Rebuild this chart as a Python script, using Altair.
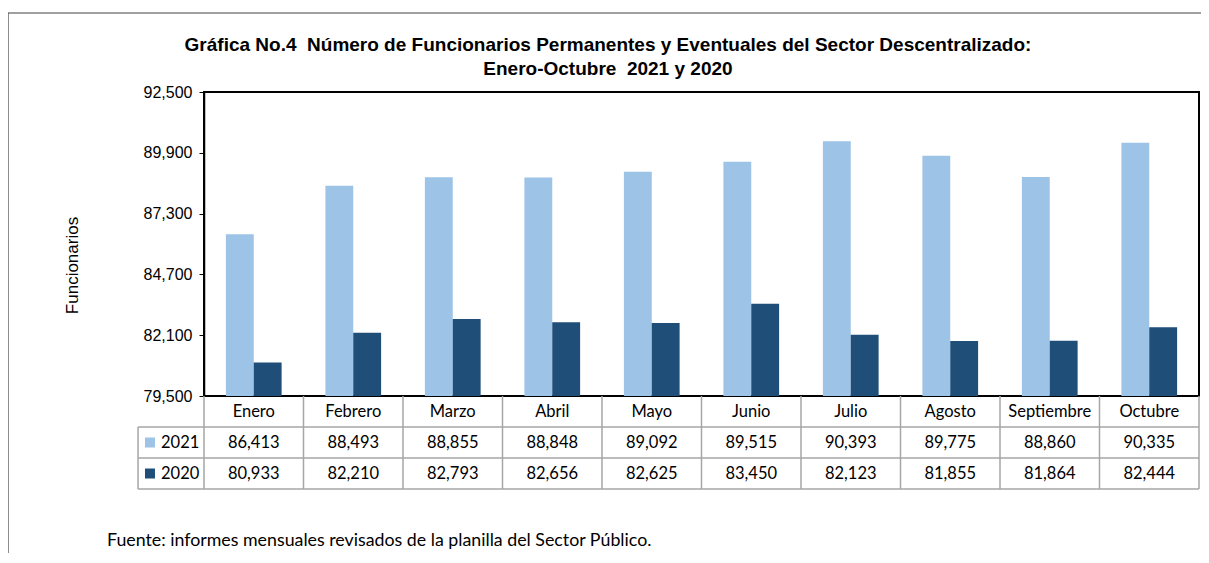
import altair as alt
import pandas as pd

months = ["Enero", "Febrero", "Marzo", "Abril", "Mayo", "Junio", "Julio",
          "Agosto", "Septiembre", "Octubre"]
years = ["2021", "2020"]
v2021 = [86413, 88493, 88855, 88848, 89092, 89515, 90393, 89775, 88860, 90335]
v2020 = [80933, 82210, 82793, 82656, 82625, 83450, 82123, 81855, 81864, 82444]
y_ticks = [79500, 82100, 84700, 87300, 89900, 92500]
colors = ["#9DC3E6", "#1F4E79"]
title_lines = [
    "Gráfica No.4 \u00a0Número de Funcionarios Permanentes y Eventuales del Sector Descentralizado:",
    "Enero-Octubre \u00a02021 y 2020",
]
y_title = "Funcionarios"
source = "Fuente: informes mensuales revisados de la planilla del Sector Público."

series = {"2021": v2021, "2020": v2020}
W, H = 995, 304
ROW = 31
GRID = "#a6a6a6"
AXFONT = "Liberation Sans"
TFONT = "Lato"

bars_df = pd.DataFrame([
    {"month": m, "year": y, "value": series[y][i], "c": i + 0.5, "r": 1.5 + k}
    for k, y in enumerate(years) for i, m in enumerate(months)
])
head_df = pd.DataFrame({"month": months, "c": [i + 0.5 for i in range(len(months))]})
n = len(months)
LEFT = -0.663
seg = []
for r in [1, 2, 3]:
    seg.append({"c": LEFT, "c2": n, "r": r, "r2": r})
for c in range(n + 1):
    seg.append({"c": c, "c2": c, "r": 0, "r2": 3})
seg.append({"c": LEFT, "c2": LEFT, "r": 1, "r2": 3})
seg_df = pd.DataFrame(seg)
leg_df = pd.DataFrame({"year": years, "r": [1.5, 2.5]})
title_df = pd.DataFrame({"t": title_lines, "r": [-11.12, -10.35]})

xs = alt.Scale(domain=[0, n], range=[0, W])
ys = alt.Scale(domain=[0, 3], range=[H, H + 3 * ROW])

bars = alt.Chart(bars_df).mark_bar().encode(
    x=alt.X("month:N", sort=months,
            scale=alt.Scale(paddingInner=0.44, paddingOuter=0.22), axis=None),
    xOffset=alt.XOffset("year:N", sort=years,
                        scale=alt.Scale(paddingInner=0, paddingOuter=0)),
    y=alt.Y("value:Q",
            scale=alt.Scale(domain=[79500, 92500], zero=False, nice=False),
            axis=alt.Axis(values=y_ticks, format=",d", grid=False,
                          labelFont=AXFONT, labelFontSize=16, labelColor="black",
                          labelPadding=7, tickSize=5, tickColor="black",
                          domainColor="black", domainWidth=1.5,
                          title=y_title, titleFont=AXFONT, titleFontSize=17,
                          titleFontWeight="normal", titleColor="black",
                          titlePadding=62, titleY=173)),
    y2=alt.Y2(datum=79500),
    color=alt.Color("year:N", sort=years,
                    scale=alt.Scale(domain=years, range=colors), legend=None),
)

grid = alt.Chart(seg_df).mark_rule(color=GRID, strokeWidth=1.5).encode(
    x=alt.X("c:Q", scale=xs, axis=None), x2="c2:Q",
    y=alt.Y("r:Q", scale=ys, axis=None), y2="r2:Q",
)
head = alt.Chart(head_df).mark_text(font=TFONT, fontSize=16.5, color="black",
                                     baseline="middle").encode(
    x=alt.X("c:Q", scale=xs, axis=None),
    y=alt.Y(datum=0.5, scale=ys, axis=None),
    text="month:N",
)
vals = alt.Chart(bars_df).mark_text(font=TFONT, fontSize=16.5, color="black",
                                     baseline="middle").encode(
    x=alt.X("c:Q", scale=xs, axis=None),
    y=alt.Y("r:Q", scale=ys, axis=None),
    text=alt.Text("value:Q", format=",d"),
)
leg_sq = alt.Chart(leg_df).mark_square(size=100, opacity=1).encode(
    x=alt.X(datum=-0.543, scale=xs, axis=None),
    y=alt.Y("r:Q", scale=ys, axis=None),
    color=alt.Color("year:N", sort=years,
                    scale=alt.Scale(domain=years, range=colors), legend=None),
)
leg_tx = alt.Chart(leg_df).mark_text(font=TFONT, fontSize=16.5, color="black",
                                      align="left", baseline="middle").encode(
    x=alt.X(datum=-0.432, scale=xs, axis=None),
    y=alt.Y("r:Q", scale=ys, axis=None),
    text="year:N",
)
foot = alt.Chart(pd.DataFrame({"t": [source]})).mark_text(
    font=TFONT, fontSize=17.8, color="black", align="left", baseline="alphabetic"
).encode(
    x=alt.X(datum=-0.975, scale=xs, axis=None),
    y=alt.Y(datum=4.84, scale=ys, axis=None),
    text="t:N",
)
title = alt.Chart(title_df).mark_text(
    font=AXFONT, fontSize=19, fontWeight="bold", color="black",
    align="center", baseline="alphabetic"
).encode(
    x=alt.X(datum=4.06, scale=xs, axis=None),
    y=alt.Y("r:Q", scale=ys, axis=None),
    text="t:N",
)
table = alt.layer(grid, head, vals, leg_sq, leg_tx, foot, title)

one = pd.DataFrame({"a": [0]})
frame_top = alt.Chart(one).mark_rule(color="#404040", strokeWidth=1.2).encode(
    x=alt.value(-196), x2=alt.value(W + 2), y=alt.value(-79))
frame_left = alt.Chart(one).mark_rule(color="#404040", strokeWidth=1.2).encode(
    x=alt.value(-196), y=alt.value(-79), y2=alt.value(H + 157))

chart = alt.layer(bars, table, frame_top, frame_left).resolve_scale(
    x="independent", y="independent"
).properties(
    width=W, height=H,
    padding={"left": 196, "top": 84, "right": 2, "bottom": 157},
    autosize=alt.AutoSizeParams(type="none"),
    background="white",
).configure_view(stroke="black", strokeWidth=2)

chart.save("out.html", embed_options={"renderer": "svg", "actions": False})
